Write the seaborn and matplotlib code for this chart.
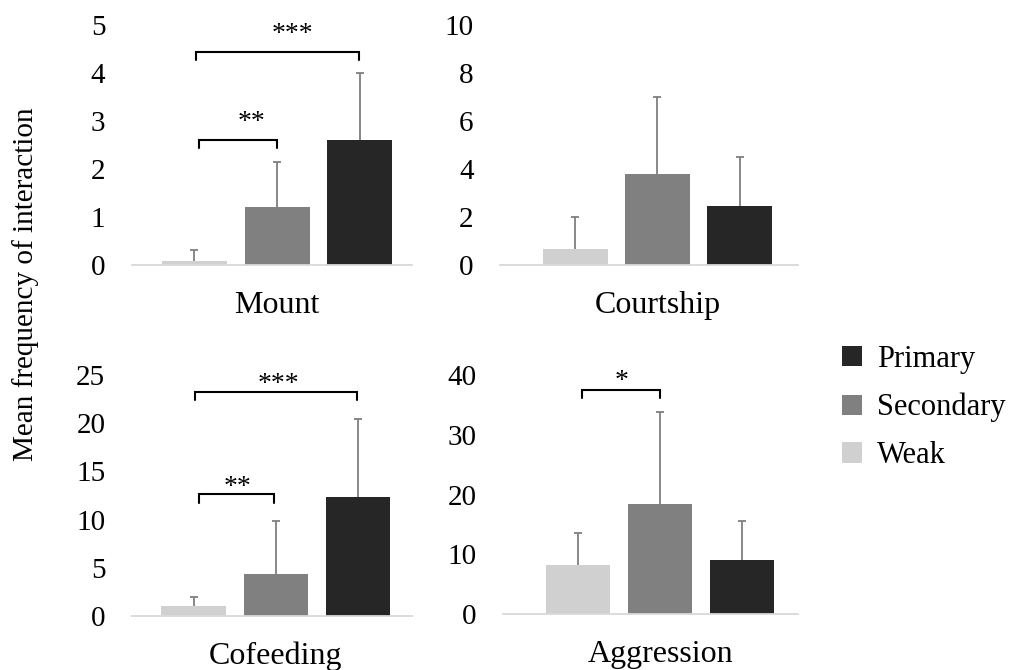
import numpy as np
import pandas as pd
import matplotlib
matplotlib.use("Agg")
import matplotlib.pyplot as plt
from matplotlib.patches import Patch
import seaborn as sns

# ---------------- data ----------------
groups = ["Weak", "Secondary", "Primary"]
legend_order = ["Primary", "Secondary", "Weak"]
panel_names = ["Mount", "Courtship", "Cofeeding", "Aggression"]

mount_mean = [0.08, 1.20, 2.60]
mount_sd = [0.23, 0.95, 1.41]
courtship_mean = [0.67, 3.78, 2.47]
courtship_sd = [1.32, 3.21, 2.02]
cofeeding_mean = [1.00, 4.36, 12.31]
cofeeding_sd = [1.00, 5.53, 8.13]
aggression_mean = [8.24, 18.40, 9.13]
aggression_sd = [5.36, 15.40, 6.47]

mount_ticks = [0, 1, 2, 3, 4, 5]
courtship_ticks = [0, 2, 4, 6, 8, 10]
cofeeding_ticks = [0, 5, 10, 15, 20, 25]
aggression_ticks = [0, 10, 20, 30, 40]

# significance brackets: (x_start, x_end, y_top, y_leg, label, label_x, label_y)
mount_sig = [(0.02, 1.99, 4.44, 4.27, "***", 1.18, 4.94),
             (0.06, 1.00, 2.60, 2.44, "**", 0.69, 3.10)]
courtship_sig = []
cofeeding_sig = [(0.01, 1.99, 23.2, 22.4, "***", 1.03, 24.74),
                 (0.06, 0.98, 12.62, 11.69, "**", 0.535, 14.0)]
aggression_sig = [(0.045, 1.00, 37.5, 36.1, "*", 0.527, 40.0)]

# ---------------- style ----------------
sns.set_theme(style="white")
plt.rcParams["font.family"] = ["Liberation Serif", "DejaVu Serif"]
plt.rcParams["text.color"] = "black"
plt.rcParams["ytick.color"] = "black"
plt.rcParams["xtick.color"] = "black"

colors = {"Weak": "#d0d0d0", "Secondary": "#808080", "Primary": "#262626"}

fig = plt.figure(figsize=(10.11, 6.7), dpi=100)

panels = [
    ("Mount", mount_mean, mount_sd, mount_ticks, mount_sig,
     [0.1303, 0.6045, 0.2773, 0.3582], (-0.755, 2.63)),
    ("Courtship", courtship_mean, courtship_sd, courtship_ticks, courtship_sig,
     [0.4946, 0.6045, 0.2945, 0.3582], (-0.915, 2.707)),
    ("Cofeeding", cofeeding_mean, cofeeding_sd, cofeeding_ticks, cofeeding_sig,
     [0.1303, 0.0806, 0.2773, 0.3597], (-0.754, 2.656)),
    ("Aggression", aggression_mean, aggression_sd, aggression_ticks, aggression_sig,
     [0.4972, 0.0831, 0.2918, 0.3572], (-0.917, 2.676)),
]

for name, means, sds, ticks, sig, rect, xlim in panels:
    ax = fig.add_axes(rect)
    df = pd.DataFrame({"group": groups, "mean": means, "sd": sds})
    sns.barplot(data=df, x="group", y="mean", hue="group", order=groups,
                hue_order=groups, palette=colors, width=0.785, linewidth=0,
                errorbar=None, legend=False, ax=ax, zorder=2)
    xs = np.arange(len(groups))
    eb = ax.errorbar(xs, df["mean"], yerr=[np.zeros(len(groups)), df["sd"]],
                     fmt="none", ecolor="#7f7f7f", elinewidth=1.3, capsize=3.2,
                     capthick=1.3, zorder=3)
    # hide the lower caps (one-sided error bars)
    for cl in eb[1]:
        yd = np.asarray(cl.get_ydata(), dtype=float)
        if np.allclose(yd, np.asarray(means, dtype=float)):
            cl.set_visible(False)
    ax.set_xlim(*xlim)
    ax.set_ylim(ticks[0], ticks[-1])
    ax.set_yticks(ticks)
    ax.set_yticklabels([str(t) for t in ticks], fontsize=21)
    ax.set_xticks([])
    ax.set_xlabel("")
    ax.set_ylabel("")
    ax.tick_params(axis="y", length=0, pad=19)
    for s in ["left", "right", "top"]:
        ax.spines[s].set_visible(False)
    ax.spines["bottom"].set_color("#d9d9d9")
    ax.spines["bottom"].set_linewidth(1.3)
    ax.annotate(name, xy=(1, 0), xycoords=("data", "axes fraction"),
                xytext=(0, -34.5), textcoords="offset points", ha="center",
                va="baseline", fontsize=23, annotation_clip=False)
    for x0, x1, ytop, yleg, lab, lx, ly in sig:
        ax.plot([x0, x0, x1, x1], [yleg, ytop, ytop, yleg], color="black",
                lw=1.5, clip_on=False, solid_joinstyle="miter")
        ax.annotate(lab, xy=(lx, ly), xycoords="data", xytext=(0, -9.5),
                    textcoords="offset points", ha="center", va="baseline",
                    fontsize=20, annotation_clip=False)

fig.text(26 / 1011, 1 - 284 / 670, "Mean frequency of interaction",
         rotation=90, ha="center", va="center", fontsize=21)

handles = [Patch(facecolor=colors[g], edgecolor="none") for g in legend_order]
fig.legend(handles, legend_order, loc="upper left",
           bbox_to_anchor=(842 / 1011, 1 - 345 / 670), frameon=False,
           fontsize=22, handlelength=0.65, handleheight=0.65,
           handletextpad=0.5, labelspacing=0.62, borderpad=0,
           borderaxespad=0)

fig.savefig("out.png", dpi=100)
